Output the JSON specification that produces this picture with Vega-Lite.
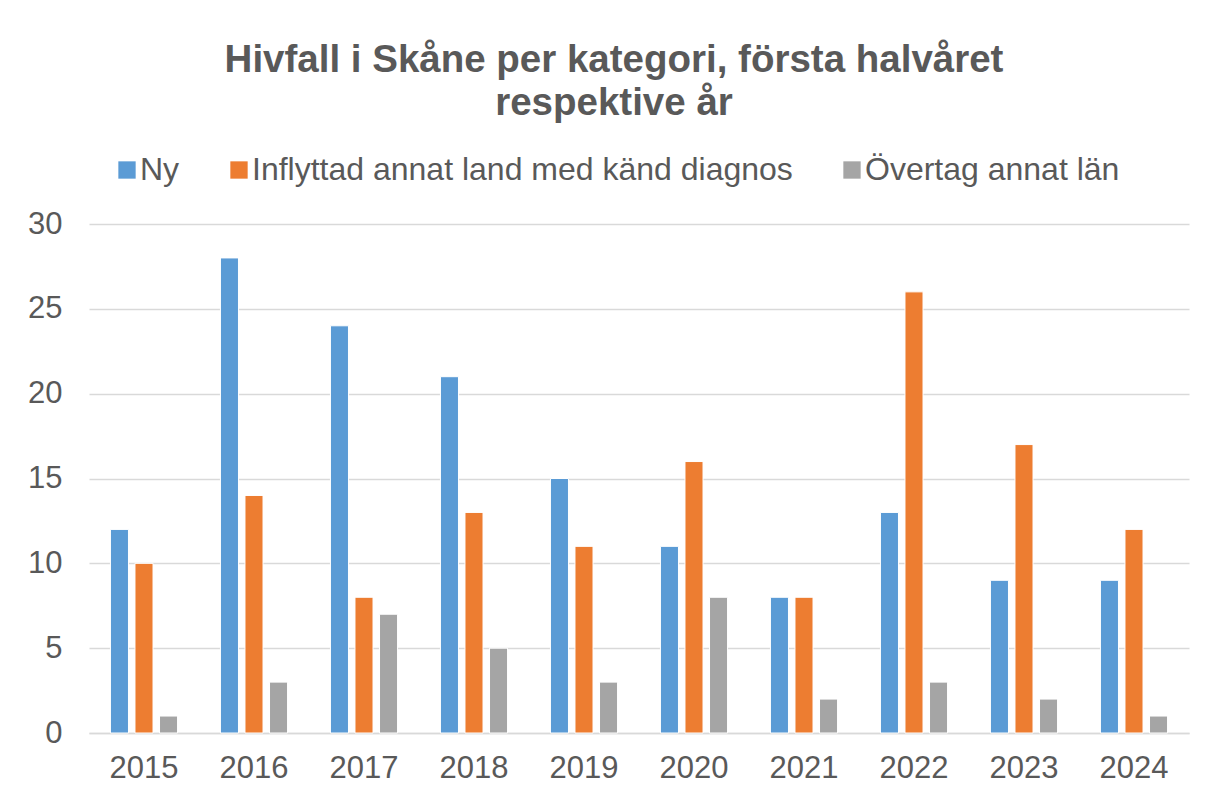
{
  "$schema": "https://vega.github.io/schema/vega-lite/v6.json",
  "width": 1100,
  "height": 509,
  "autosize": {"type": "none"},
  "padding": {"left": 89, "top": 224, "right": 19, "bottom": 65},
  "background": "white",
  "config": {
    "font": "Liberation Sans",
    "view": {"stroke": null},
    "axis": {"labelColor": "#595959", "labelFontSize": 31, "labelFont": "Liberation Sans", "titleColor": "#595959"},
    "legend": {"labelColor": "#595959", "labelFontSize": 32, "labelFont": "Liberation Sans"}
  },
  "title": {
    "text": ["Hivfall i Skåne per kategori, första halvåret", "respektive år"],
    "fontSize": 38.5,
    "fontWeight": "bold",
    "color": "#595959",
    "font": "Liberation Sans",
    "lineHeight": 43,
    "anchor": "middle",
    "frame": "group",
    "dx": -25,
    "offset": 31
  },
  "data": {
    "values": [
      {"year": "2015", "kategori": "Ny", "antal": 12},
      {"year": "2015", "kategori": "Inflyttad annat land med känd diagnos", "antal": 10},
      {"year": "2015", "kategori": "Övertag annat län", "antal": 1},
      {"year": "2016", "kategori": "Ny", "antal": 28},
      {"year": "2016", "kategori": "Inflyttad annat land med känd diagnos", "antal": 14},
      {"year": "2016", "kategori": "Övertag annat län", "antal": 3},
      {"year": "2017", "kategori": "Ny", "antal": 24},
      {"year": "2017", "kategori": "Inflyttad annat land med känd diagnos", "antal": 8},
      {"year": "2017", "kategori": "Övertag annat län", "antal": 7},
      {"year": "2018", "kategori": "Ny", "antal": 21},
      {"year": "2018", "kategori": "Inflyttad annat land med känd diagnos", "antal": 13},
      {"year": "2018", "kategori": "Övertag annat län", "antal": 5},
      {"year": "2019", "kategori": "Ny", "antal": 15},
      {"year": "2019", "kategori": "Inflyttad annat land med känd diagnos", "antal": 11},
      {"year": "2019", "kategori": "Övertag annat län", "antal": 3},
      {"year": "2020", "kategori": "Ny", "antal": 11},
      {"year": "2020", "kategori": "Inflyttad annat land med känd diagnos", "antal": 16},
      {"year": "2020", "kategori": "Övertag annat län", "antal": 8},
      {"year": "2021", "kategori": "Ny", "antal": 8},
      {"year": "2021", "kategori": "Inflyttad annat land med känd diagnos", "antal": 8},
      {"year": "2021", "kategori": "Övertag annat län", "antal": 2},
      {"year": "2022", "kategori": "Ny", "antal": 13},
      {"year": "2022", "kategori": "Inflyttad annat land med känd diagnos", "antal": 26},
      {"year": "2022", "kategori": "Övertag annat län", "antal": 3},
      {"year": "2023", "kategori": "Ny", "antal": 9},
      {"year": "2023", "kategori": "Inflyttad annat land med känd diagnos", "antal": 17},
      {"year": "2023", "kategori": "Övertag annat län", "antal": 2},
      {"year": "2024", "kategori": "Ny", "antal": 9},
      {"year": "2024", "kategori": "Inflyttad annat land med känd diagnos", "antal": 12},
      {"year": "2024", "kategori": "Övertag annat län", "antal": 1}
    ]
  },
  "mark": {"type": "bar", "stroke": "white", "strokeWidth": 1},
  "encoding": {
    "x": {
      "field": "year",
      "type": "nominal",
      "title": null,
      "scale": {"paddingInner": 0.39, "paddingOuter": 0.195},
      "axis": {"labelAngle": 0, "ticks": false, "domainColor": "#D9D9D9", "domainWidth": 1.5, "labelPadding": 20}
    },
    "xOffset": {
      "field": "kategori",
      "type": "nominal",
      "sort": ["Ny", "Inflyttad annat land med känd diagnos", "Övertag annat län"],
      "scale": {"paddingInner": 0.265}
    },
    "y": {
      "field": "antal",
      "type": "quantitative",
      "title": null,
      "scale": {"domain": [0, 30]},
      "axis": {"values": [0, 5, 10, 15, 20, 25, 30], "ticks": false, "domain": false, "gridColor": "#D9D9D9", "gridWidth": 1.5, "labelPadding": 27}
    },
    "color": {
      "field": "kategori",
      "type": "nominal",
      "sort": ["Ny", "Inflyttad annat land med känd diagnos", "Övertag annat län"],
      "scale": {"domain": ["Ny", "Inflyttad annat land med känd diagnos", "Övertag annat län"], "range": ["#5B9BD5", "#ED7D31", "#A5A5A5"]},
      "legend": {
        "title": null,
        "orient": "none",
        "direction": "horizontal",
        "legendX": 22,
        "legendY": -70,
        "symbolType": "square",
        "symbolSize": 300,
        "symbolStrokeWidth": 0,
        "columnPadding": 43,
        "labelOffset": -3,
        "labelLimit": 0
      }
    }
  }
}
